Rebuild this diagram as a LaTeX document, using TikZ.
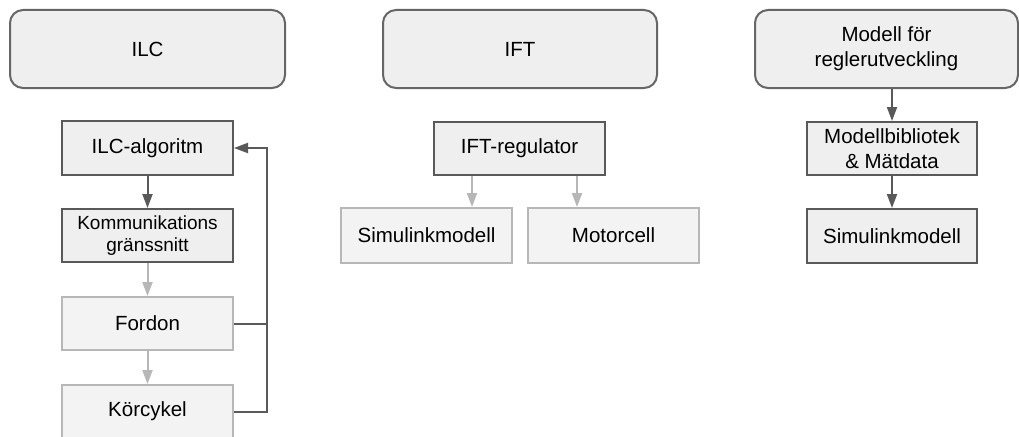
\documentclass[tikz,border=0pt]{standalone}
\usepackage{fontspec}
\setmainfont{Liberation Sans}
\usetikzlibrary{arrows.meta}
\definecolor{darkline}{HTML}{595959}
\definecolor{darkfill}{HTML}{EFEFEF}
\definecolor{lightline}{HTML}{B7B7B7}
\definecolor{lightfill}{HTML}{F3F3F3}
\definecolor{bigline}{HTML}{666666}
\tikzset{
  bigbox/.style={draw=bigline, fill=darkfill, line width=2pt, rounded corners=13pt,
    minimum height=78pt, inner sep=0pt, align=center, font=\fontsize{20.5}{25}\selectfont},
  darkbox/.style={draw=darkline, fill=darkfill, line width=2pt, minimum width=171pt,
    minimum height=54pt, inner sep=0pt, align=center, font=\fontsize{20.5}{25}\selectfont},
  lightbox/.style={draw=lightline, fill=lightfill, line width=2pt, minimum width=171pt,
    minimum height=54pt, inner sep=0pt, align=center, font=\fontsize{20.5}{25}\selectfont},
  darkarrow/.style={draw=darkline, line width=2pt, -{Triangle[length=14pt,width=10pt]}},
  lightarrow/.style={draw=lightline, line width=2pt, -{Triangle[length=14pt,width=10pt]}},
  darkline/.style={draw=darkline, line width=2pt}
}
\begin{document}
\begin{tikzpicture}[x=1pt,y=-1pt]
\path[use as bounding box, clip] (0,0) rectangle (1019,436);
\fill[white] (0,0) rectangle (1019,436);
% top boxes
\node[bigbox, minimum width=275pt] (ilc) at (147.5,49) {ILC};
\node[bigbox, minimum width=274pt] (ift) at (520,49) {IFT};
\node[bigbox, minimum width=263pt] (mod) at (886.5,49) {Modell för\\reglerutveckling};
% ILC column
\node[darkbox] (alg) at (147.5,148) {ILC-algoritm};
\node[darkbox, minimum height=53pt, font=\fontsize{19}{22}\selectfont] (komm) at (147.5,235.5) {Kommunikations\\gränssnitt};
\node[lightbox, minimum height=53pt] (ford) at (147.5,323.5) {Fordon};
\node[lightbox, minimum height=53pt] (kor) at (147.5,411.5) {Körcykel};
% IFT column
\node[darkbox, minimum height=53pt] (iftreg) at (519.5,148.5) {IFT-regulator};
\node[lightbox, minimum height=55pt] (sim1) at (426.5,235.5) {Simulinkmodell};
\node[lightbox, minimum height=55pt] (motor) at (613.5,235.5) {Motorcell};
% Modell column
\node[darkbox, minimum width=170pt, minimum height=53pt] (bib) at (892,148.5) {Modellbibliotek\\\& Mätdata};
\node[darkbox, minimum width=170pt] (sim2) at (892,236) {Simulinkmodell};
% connectors
\draw[darkarrow] (alg.south) -- (komm.north);
\draw[lightarrow] (komm.south) -- (ford.north);
\draw[lightarrow] (ford.south) -- (kor.north);
\draw[darkarrow] (kor.east) -- ++(33,0) coordinate (fb) |- (alg.east);
\draw[darkline] (ford.east) -- (ford.east -| fb);
\draw[lightarrow] ([xshift=-47.5pt]iftreg.south) -- ([xshift=-47.5pt]iftreg.south |- sim1.north);
\draw[lightarrow] ([xshift=57.5pt]iftreg.south) -- ([xshift=57.5pt]iftreg.south |- motor.north);
\draw[darkarrow] (mod.south -| bib.north) -- (bib.north);
\draw[darkarrow] (bib.south) -- (sim2.north);
\end{tikzpicture}
\end{document}
